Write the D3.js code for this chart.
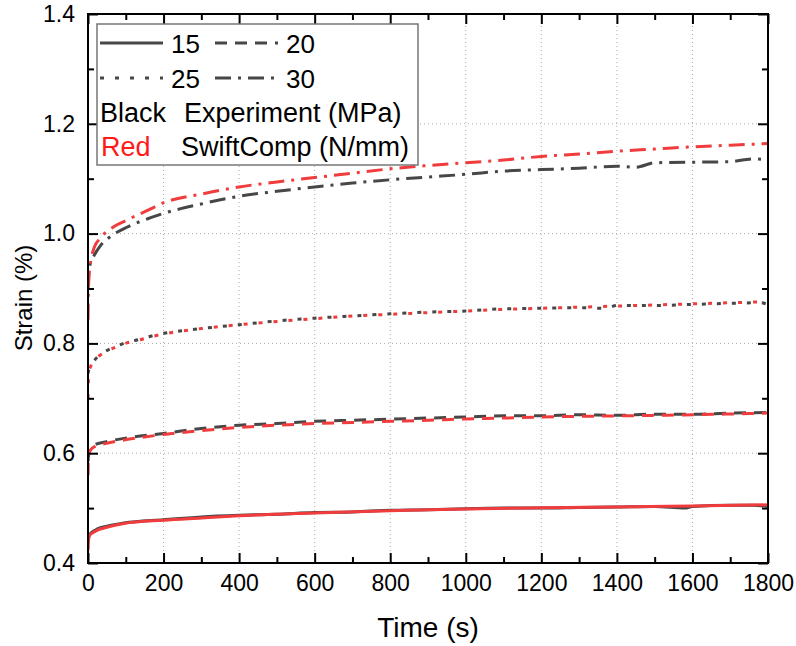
<!DOCTYPE html>
<html>
<head>
<meta charset="utf-8">
<script src="https://cdn.jsdelivr.net/npm/d3@7/dist/d3.min.js"></script>
<style>
  body { margin: 0; background: #fff; }
  text { font-family: Arial, "Liberation Sans", sans-serif; }
</style>
</head>
<body>
<svg id="chart" width="796" height="646"></svg>
<script>
// experiment (black) and SwiftComp (red) creep curves
var expT15 = [0, 2, 5, 10, 25, 50, 95, 200, 300, 400, 500, 600, 700, 800, 900, 1000, 1100, 1200, 1300, 1400, 1500, 1580, 1600, 1700, 1760, 1800];
var expS15 = [0.44, 0.448, 0.452, 0.456, 0.462, 0.467, 0.473, 0.479, 0.484, 0.487, 0.489, 0.492, 0.493, 0.496, 0.497, 0.499, 0.500, 0.500, 0.501, 0.502, 0.503, 0.500, 0.503, 0.505, 0.505, 0.503];
var simT15 = [0, 2, 5, 10, 25, 50, 95, 200, 300, 400, 600, 800, 1000, 1200, 1400, 1600, 1800];
var simS15 = [0.423, 0.445, 0.451, 0.454, 0.460, 0.465, 0.472, 0.478, 0.482, 0.486, 0.491, 0.495, 0.4985, 0.5005, 0.502, 0.504, 0.506];

var expT20 = [0, 2, 8, 20, 42, 95, 200, 300, 400, 500, 600, 700, 800, 900, 1000, 1100, 1200, 1300, 1400, 1500, 1600, 1700, 1800];
var expS20 = [0.585, 0.598, 0.61, 0.616, 0.62, 0.627, 0.636, 0.645, 0.651, 0.654, 0.658, 0.660, 0.662, 0.664, 0.666, 0.668, 0.668, 0.670, 0.669, 0.671, 0.671, 0.673, 0.674];
var simT20 = [0, 1, 3, 8, 20, 42, 95, 200, 300, 400, 500, 600, 700, 800, 900, 1000, 1100, 1200, 1400, 1600, 1800];
var simS20 = [0.56, 0.59, 0.600, 0.607, 0.613, 0.617, 0.624, 0.634, 0.641, 0.647, 0.651, 0.654, 0.656, 0.658, 0.660, 0.6625, 0.664, 0.666, 0.668, 0.670, 0.673];

var expT25 = [0, 2, 7, 16, 33, 47, 69, 103, 135, 166, 192, 300, 400, 500, 600, 700, 800, 900, 1000, 1100, 1200, 1300, 1370, 1400, 1500, 1600, 1700, 1780, 1800];
var expS25 = [0.745, 0.752, 0.758, 0.768, 0.78, 0.786, 0.793, 0.802, 0.807, 0.813, 0.817, 0.827, 0.834, 0.841, 0.846, 0.850, 0.854, 0.857, 0.859, 0.863, 0.864, 0.865, 0.864, 0.869, 0.869, 0.871, 0.873, 0.874, 0.871];
var simT25 = [0, 1, 3, 7, 16, 33, 47, 69, 103, 135, 166, 192, 300, 400, 500, 600, 700, 800, 900, 1000, 1100, 1200, 1300, 1400, 1500, 1600, 1700, 1800];
var simS25 = [0.70, 0.733, 0.748, 0.758, 0.768, 0.779, 0.785, 0.792, 0.801, 0.806, 0.812, 0.816, 0.827, 0.834, 0.840, 0.845, 0.850, 0.853, 0.856, 0.859, 0.862, 0.864, 0.866, 0.868, 0.870, 0.872, 0.874, 0.876];

var expT30 = [0, 3, 10, 16, 33, 69, 104, 166, 196, 300, 400, 500, 600, 700, 800, 900, 1000, 1100, 1200, 1300, 1400, 1450, 1500, 1600, 1700, 1760, 1800];
var expS30 = [0.90, 0.935, 0.952, 0.960, 0.978, 0.999, 1.012, 1.029, 1.036, 1.054, 1.068, 1.077, 1.085, 1.092, 1.098, 1.103, 1.108, 1.114, 1.1166, 1.119, 1.1227, 1.121, 1.129, 1.130, 1.131, 1.136, 1.134];
var simT30 = [0, 1, 3, 8, 16, 33, 69, 104, 166, 196, 300, 400, 500, 600, 700, 800, 900, 1000, 1100, 1200, 1300, 1400, 1500, 1600, 1700, 1800];
var simS30 = [0.843, 0.892, 0.925, 0.952, 0.974, 0.992, 1.013, 1.025, 1.045, 1.055, 1.072, 1.085, 1.094, 1.102, 1.110, 1.118, 1.124, 1.129, 1.134, 1.1405, 1.145, 1.15, 1.154, 1.158, 1.161, 1.164];

var stressLevels = ["15", "20", "25", "30"];
var xTicks = [0, 200, 400, 600, 800, 1000, 1200, 1400, 1600, 1800];
var yTicks = [0.4, 0.6, 0.8, 1.0, 1.2, 1.4];

var dashes = { "15": null, "20": "12,8", "25": "4,11", "30": "16,7,3,7" };
var grey = "#474747", red = "#f03c3c";

var box = { left: 88, right: 768, top: 14, bottom: 563 };
var x = d3.scaleLinear().domain([0, 1800]).range([box.left, box.right]);
var y = d3.scaleLinear().domain([0.4, 1.4]).range([box.bottom, box.top]);

var svg = d3.select("#chart");

// grid
svg.append("g").selectAll("line")
    .data(xTicks.slice(1, -1))
    .join("line")
    .attr("x1", d => x(d)).attr("x2", d => x(d))
    .attr("y1", box.top).attr("y2", box.bottom)
    .attr("stroke", "#aaa").attr("stroke-dasharray", "1,3");
svg.append("g").selectAll("line")
    .data(yTicks.slice(1, -1))
    .join("line")
    .attr("y1", d => y(d)).attr("y2", d => y(d))
    .attr("x1", box.left).attr("x2", box.right)
    .attr("stroke", "#aaa").attr("stroke-dasharray", "1,3");

// curves
svg.append("clipPath").attr("id", "clip")
    .append("rect").attr("x", box.left).attr("y", box.top)
    .attr("width", box.right - box.left).attr("height", box.bottom - box.top);

var series = [
    { k: "15", t: expT15, s: expS15, c: grey }, { k: "20", t: expT20, s: expS20, c: grey },
    { k: "25", t: expT25, s: expS25, c: grey }, { k: "30", t: expT30, s: expS30, c: grey },
    { k: "15", t: simT15, s: simS15, c: red }, { k: "20", t: simT20, s: simS20, c: red },
    { k: "25", t: simT25, s: simS25, c: red }, { k: "30", t: simT30, s: simS30, c: red }
];

var line = d3.line()
    .x(d => x(d[0]))
    .y(d => y(d[1]))
    .curve(d3.curveMonotoneX);

svg.append("g").attr("clip-path", "url(#clip)")
    .selectAll("path")
    .data(series)
    .join("path")
    .attr("d", d => line(d.t.map((t, i) => [t, d.s[i]])))
    .attr("fill", "none")
    .attr("stroke", d => d.c)
    .attr("stroke-width", 3)
    .attr("stroke-dasharray", d => dashes[d.k]);

// axes, ticks pointing inward on all four sides
function styleAxis(g) {
    g.select(".domain").remove();
    g.selectAll(".tick line").attr("stroke", "#000").attr("stroke-width", 2);
    g.selectAll("text").attr("font-size", 23).attr("fill", "#000");
}
var minorX = d3.range(100, 1800, 200), minorY = [0.5, 0.7, 0.9, 1.1, 1.3];

svg.append("g").attr("transform", `translate(0,${box.bottom})`)
    .call(d3.axisBottom(x).tickValues(xTicks).tickSize(-10).tickPadding(12).tickFormat(d3.format("d")))
    .call(styleAxis);
svg.append("g").attr("transform", `translate(0,${box.bottom})`)
    .call(d3.axisBottom(x).tickValues(minorX).tickSize(-6).tickFormat(""))
    .call(styleAxis);
svg.append("g").attr("transform", `translate(0,${box.top})`)
    .call(d3.axisTop(x).tickValues(xTicks).tickSize(-10).tickFormat(""))
    .call(styleAxis);
svg.append("g").attr("transform", `translate(0,${box.top})`)
    .call(d3.axisTop(x).tickValues(minorX).tickSize(-6).tickFormat(""))
    .call(styleAxis);
svg.append("g").attr("transform", `translate(${box.left},0)`)
    .call(d3.axisLeft(y).tickValues(yTicks).tickSize(-10).tickPadding(13).tickFormat(d3.format(".1f")))
    .call(styleAxis);
svg.append("g").attr("transform", `translate(${box.left},0)`)
    .call(d3.axisLeft(y).tickValues(minorY).tickSize(-6).tickFormat(""))
    .call(styleAxis);
svg.append("g").attr("transform", `translate(${box.right},0)`)
    .call(d3.axisRight(y).tickValues(yTicks).tickSize(-10).tickFormat(""))
    .call(styleAxis);
svg.append("g").attr("transform", `translate(${box.right},0)`)
    .call(d3.axisRight(y).tickValues(minorY).tickSize(-6).tickFormat(""))
    .call(styleAxis);

svg.append("rect")
    .attr("x", box.left).attr("y", box.top)
    .attr("width", box.right - box.left).attr("height", box.bottom - box.top)
    .attr("fill", "none").attr("stroke", "#000").attr("stroke-width", 2);

// axis titles
svg.append("text")
    .attr("x", (box.left + box.right) / 2).attr("y", 637)
    .attr("text-anchor", "middle").attr("font-size", 28)
    .text("Time (s)");
svg.append("text")
    .attr("transform", "translate(32,298) rotate(-90)")
    .attr("text-anchor", "middle").attr("font-size", 24)
    .text("Strain (%)");

// legend
var lg = svg.append("g");
lg.append("rect")
    .attr("x", 97).attr("y", 24).attr("width", 321).attr("height", 141)
    .attr("fill", "#fff").attr("stroke", "#777").attr("stroke-width", 1.5);

var legendPos = [[100, 43], [215, 43], [100, 78], [215, 78]];
stressLevels.forEach((k, i) => {
    var p = legendPos[i];
    lg.append("line")
        .attr("x1", p[0]).attr("x2", p[0] + 63)
        .attr("y1", p[1]).attr("y2", p[1])
        .attr("stroke", grey).attr("stroke-width", 3)
        .attr("stroke-dasharray", dashes[k]);
    lg.append("text")
        .attr("x", p[0] + 71).attr("y", p[1] + 10)
        .attr("font-size", 26)
        .text(k);
});
lg.append("text").attr("x", 100).attr("y", 122).attr("font-size", 27).text("Black");
lg.append("text").attr("x", 184).attr("y", 122).attr("font-size", 27).text("Experiment (MPa)");
lg.append("text").attr("x", 101).attr("y", 156).attr("font-size", 27).attr("fill", "#ff1a1a").text("Red");
lg.append("text").attr("x", 181).attr("y", 156).attr("font-size", 27).text("SwiftComp (N/mm)");
</script>
</body>
</html>
